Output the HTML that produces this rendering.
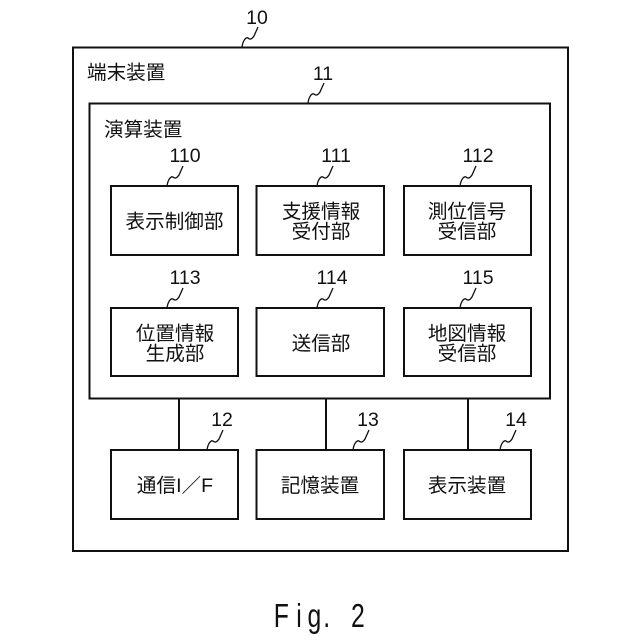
<!DOCTYPE html>
<html>
<head>
<meta charset="utf-8">
<style>
html,body{margin:0;padding:0;background:#fff;width:640px;height:640px;overflow:hidden}
svg{display:block}
text{font-family:"Liberation Sans","Noto Sans CJK JP",sans-serif;fill:#111}
.j{font-size:19.6px;text-anchor:middle}
.l{font-size:19.6px}
.n{font-size:19.5px;text-anchor:middle}
rect,line{fill:none;stroke:#111;stroke-width:2}
path{fill:none;stroke:#111;stroke-width:1.3}
</style>
</head>
<body>
<svg width="640" height="640" viewBox="0 0 640 640" xmlns="http://www.w3.org/2000/svg">
<rect x="73" y="47.5" width="495" height="503.5"/>
<rect x="89.5" y="103.5" width="460.5" height="295"/>
<rect x="111" y="186" width="127" height="69"/>
<rect x="256.500" y="186" width="127.500" height="69"/>
<rect x="404" y="186" width="127" height="69"/>
<rect x="111" y="308" width="127" height="68"/>
<rect x="256.500" y="308" width="127.500" height="68"/>
<rect x="404" y="308" width="127" height="68"/>
<rect x="111" y="450" width="127" height="69"/>
<rect x="256.500" y="450" width="127.500" height="69"/>
<rect x="404" y="450" width="127" height="69"/>
<line x1="179" y1="398" x2="179" y2="450"/>
<line x1="326" y1="398" x2="326" y2="450"/>
<line x1="468" y1="398" x2="468" y2="450"/>

<g id="squiggles">
<path d="M242 47 C243 40 246 37 248 38 C250 40 252 39 254 36 L258 27"/>
<path d="M308 103 C309 96 312 93 314 94 C316 96 318 95 320 92 L324 83"/>
<path d="M167 186 C168 179 171 176 173 177 C175 179 177 178 179 175 L183 166"/>
<path d="M317 186 C318 179 321 176 323 177 C325 179 327 178 329 175 L333 166"/>
<path d="M460 186 C461 179 464 176 466 177 C468 179 470 178 472 175 L476 166"/>
<path d="M167 308 C168 301 171 298 173 299 C175 301 177 300 179 297 L183 288"/>
<path d="M317 308 C318 301 321 298 323 299 C325 301 327 300 329 297 L333 288"/>
<path d="M460 308 C461 301 464 298 466 299 C468 301 470 300 472 297 L476 288"/>
<path d="M207 450 C208 443 211 440 213 441 C215 443 217 442 219 439 L223 430"/>
<path d="M353 450 C354 443 357 440 359 441 C361 443 363 442 365 439 L369 430"/>
<path d="M500 450 C501 443 504 440 506 441 C508 443 510 442 512 439 L516 430"/>
</g>

<text class="n" x="257" y="24">10</text>
<text class="n" x="323" y="80">11</text>
<text class="n" x="185" y="162">110</text>
<text class="n" x="336" y="162">111</text>
<text class="n" x="478" y="162">112</text>
<text class="n" x="185" y="284">113</text>
<text class="n" x="332" y="284">114</text>
<text class="n" x="478" y="284">115</text>
<text class="n" x="222" y="426">12</text>
<text class="n" x="368" y="426">13</text>
<text class="n" x="516" y="426">14</text>

<text class="l" x="87" y="79">端末装置</text>
<text class="l" x="104" y="136">演算装置</text>

<text class="j" x="174.500" y="228">表示制御部</text>
<text class="j" x="321" y="218">支援情報</text>
<text class="j" x="321" y="238">受付部</text>
<text class="j" x="467" y="218">測位信号</text>
<text class="j" x="467" y="238">受信部</text>
<text class="j" x="175" y="340">位置情報</text>
<text class="j" x="175" y="360">生成部</text>
<text class="j" x="321" y="350">送信部</text>
<text class="j" x="467" y="340">地図情報</text>
<text class="j" x="467" y="360">受信部</text>
<text class="j" x="175" y="492">通信I／F</text>
<text class="j" x="320" y="492">記憶装置</text>
<text class="j" x="467" y="492">表示装置</text>

<text transform="translate(0,627) scale(0.75,1)" x="365 395 410 431 468" y="0" style="font-size:33px">Fig.2</text>
</svg>
</body>
</html>
